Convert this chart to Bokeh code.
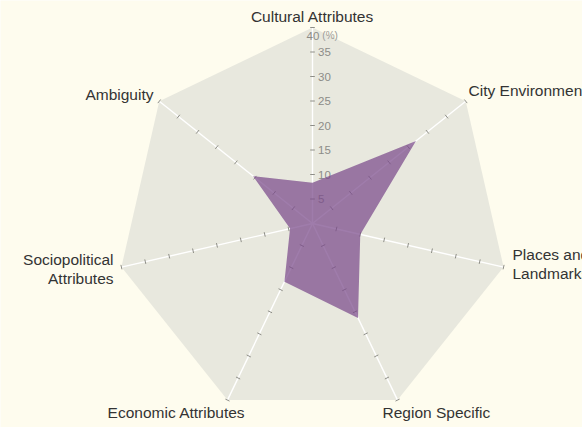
import math
from bokeh.plotting import figure
from bokeh.models import ColumnDataSource, Range1d
from bokeh.core.properties import value
from bokeh.embed import file_html
from bokeh.resources import INLINE

# ---- data ----
categories = ["Cultural Attributes", "City Environment", "Places and\nLandmarks",
              "Region Specific", "Economic Attributes", "Sociopolitical\nAttributes", "Ambiguity"]
shares = [8.3, 27.0, 10.0, 21.4, 13.2, 4.7, 15.5]
tick_values = [5, 10, 15, 20, 25, 30, 35, 40]
tick_labels = ["5", "10", "15", "20", "25", "30", "35", "40"]
unit_label = "(%)"
r_max = 40

# ---- layout constants ----
W, H = 582, 427
CX, CY = 312, 223          # centre in figure pixels
S = 4.9                    # pixels per percent
BG = "#fefcee"
WEB = "#e8e8de"
FILL = "#7a4a8a"

n = len(categories)
ang = [math.pi / 2 - i * 2 * math.pi / n for i in range(n)]

p = figure(width=W, height=H, output_backend="svg", toolbar_location=None,
           x_axis_type=None, y_axis_type=None, min_border=0,
           x_range=Range1d(-CX / S, (W - CX) / S), y_range=Range1d(-(H - CY) / S, CY / S))
p.grid.visible = False
p.outline_line_color = None
p.background_fill_color = BG
p.border_fill_color = BG

# background heptagon
p.patch([r_max * math.cos(a) for a in ang], [r_max * math.sin(a) for a in ang],
        fill_color=WEB, line_color=None)

# spokes
p.segment(x0=[0] * n, y0=[0] * n,
          x1=[r_max * math.cos(a) for a in ang], y1=[r_max * math.sin(a) for a in ang],
          line_color="#ffffff", line_width=1.4)

# tick marks on every spoke
hl = 2.3 / S
tx0, ty0, tx1, ty1 = [], [], [], []
for a in ang:
    c, s = math.cos(a), math.sin(a)
    for v in tick_values:
        px, py = v * c, v * s
        tx0.append(px - hl * (-s)); ty0.append(py - hl * c)
        tx1.append(px + hl * (-s)); ty1.append(py + hl * c)
p.segment(x0=tx0, y0=ty0, x1=tx1, y1=ty1, line_color="#8e8e88", line_width=1)

# radial tick labels on the top spoke
lab_x = [5.5 / S] * (len(tick_values) - 1) + [-6 / S]
lab_y = [v for v in tick_values[:-1]] + [tick_values[-1] - 8 / S]
p.text(x=lab_x, y=lab_y, text=tick_labels, text_font=value("Liberation Sans"),
       text_font_size="11.5px", text_color="#8c8c88", text_align="left", text_baseline="middle")
p.text(x=[9.8 / S], y=[tick_values[-1] - 8 / S], text=[unit_label], text_font=value("Liberation Sans"),
       text_font_size="10px", text_color="#9a9a96", text_align="left", text_baseline="middle")

# data polygon
p.patch([v * math.cos(a) for v, a in zip(shares, ang)],
        [v * math.sin(a) for v, a in zip(shares, ang)],
        fill_color=FILL, fill_alpha=0.72, line_color=None)

# category labels
offs = [(0, -11.5), (2.8, -10.3), (8.9, -3.1), (-15, 12.4), (18, 12.4), (-7.9, 1.9), (-5.8, -6.8)]
aligns = ["center", "left", "left", "left", "right", "right", "right"]
lx = [r_max * math.cos(a) + dx / S for a, (dx, dy) in zip(ang, offs)]
ly = [r_max * math.sin(a) - dy / S for a, (dx, dy) in zip(ang, offs)]
src = ColumnDataSource(dict(x=lx, y=ly, t=categories, al=aligns))
p.text(x="x", y="y", text="t", text_align="al", source=src, text_baseline="middle",
       text_font=value("Liberation Sans"), text_font_size="15.5px", text_color="#333333",
       text_line_height=1.1)

html = file_html(p, INLINE)
html = html.replace("<body>", '<body style="background:%s; overflow:hidden">' % BG, 1)
open("out.html", "w").write(html)
